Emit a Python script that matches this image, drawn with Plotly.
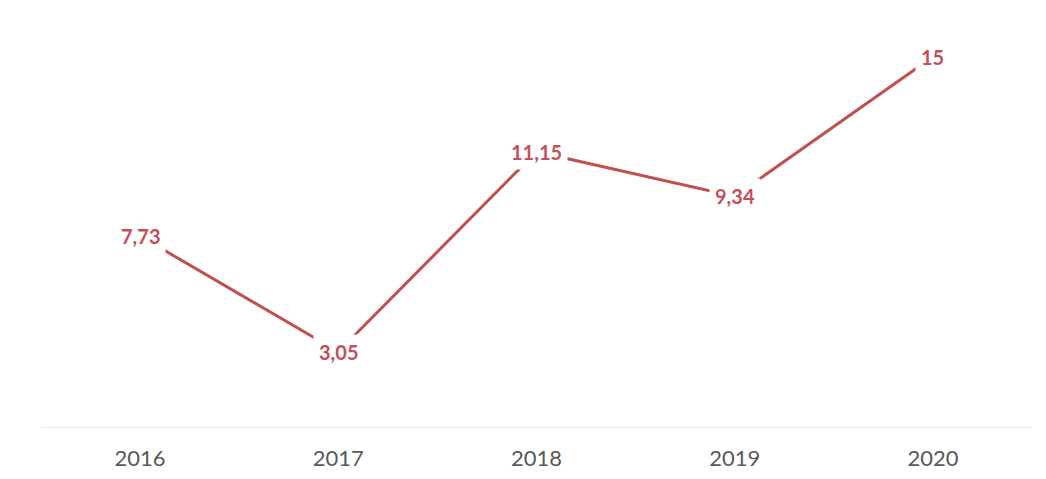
import plotly.graph_objects as go

# Annual values per year
years = ["2016", "2017", "2018", "2019", "2020"]
values = [7.73, 3.05, 11.15, 9.34, 15]

line_color = "#c0504d"
label_color = "#c2505a"


def fmt(v):
    # decimal comma, trailing zeros dropped
    s = f"{v:.2f}".rstrip("0").rstrip(".")
    return s.replace(".", ",")


x_idx = list(range(len(years)))

fig = go.Figure()
fig.add_trace(go.Scatter(
    x=x_idx,
    y=values,
    mode="lines",
    line=dict(color=line_color, width=3),
    hoverinfo="skip",
    showlegend=False,
))

# value labels sit on the points with a white box that breaks the line
for xi, v in zip(x_idx, values):
    fig.add_annotation(
        x=xi, y=v, xref="x", yref="y",
        text=fmt(v),
        showarrow=False,
        bgcolor="white",
        borderpad=5,
        font=dict(family="Lato", size=20, color=label_color, weight="bold"),
    )

fig.update_layout(
    width=1046, height=479,
    margin=dict(l=41, r=14, t=32, b=52),
    paper_bgcolor="white",
    plot_bgcolor="white",
    xaxis=dict(
        range=[-0.5, len(years) - 0.5],
        tickmode="array",
        tickvals=x_idx,
        ticktext=years,
        showgrid=False,
        zeroline=False,
        showline=True,
        linecolor="#ececec",
        linewidth=1,
        ticks="outside",
        ticklen=12,
        tickcolor="rgba(0,0,0,0)",
        tickfont=dict(family="Lato", size=22, color="#595959"),
        automargin=False,
        fixedrange=True,
    ),
    yaxis=dict(
        range=[0, 16],
        showgrid=False,
        zeroline=False,
        showticklabels=False,
        showline=False,
        automargin=False,
        fixedrange=True,
    ),
)

fig.write_html("out.html")
